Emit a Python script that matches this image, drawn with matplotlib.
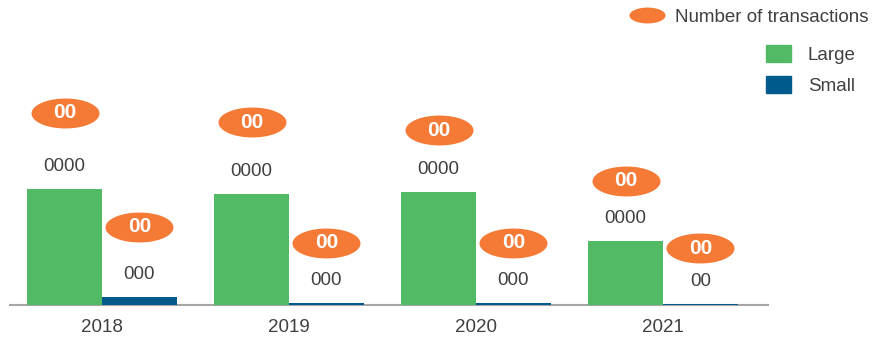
import numpy as np
import matplotlib.pyplot as plt
from matplotlib.path import Path
from matplotlib.lines import Line2D
from matplotlib.patches import Patch

plt.rcParams['font.family'] = ['Liberation Sans', 'DejaVu Sans']

# data (labels masked as in the original)
years = ['2018', '2019', '2020', '2021']
large = [116, 111, 113, 64]
small = [8, 2, 2, 1]
large_lbl = ['0000', '0000', '0000', '0000']
small_lbl = ['000', '000', '000', '00']
# number of transactions, drawn as orange ovals
trans_large = [192, 183, 175, 124]
trans_small = [78, 62, 62, 57]
trans_lbl = ['00', '00', '00', '00']

green = '#52BA64'
blue = '#005A8C'
orange = '#F47A36'
txt = '#404040'
fs = 13.5

fig = plt.figure(figsize=(8.72, 3.41), dpi=100)
ax = fig.add_axes([10 / 872, 36 / 341, 758 / 872, 305 / 341])

x = np.arange(len(years))
w = 0.40
ax.bar(x - w / 2, large, w, color=green, zorder=2)
ax.bar(x + w / 2, small, w, color=blue, zorder=2)

for i in range(len(years)):
    ax.annotate(large_lbl[i], (x[i] - w / 2, large[i]), xytext=(0, 16),
                textcoords='offset points', ha='center', va='center',
                fontsize=fs, color=txt)
    ax.annotate(small_lbl[i], (x[i] + w / 2, small[i]), xytext=(0, 16),
                textcoords='offset points', ha='center', va='center',
                fontsize=fs, color=txt)

# oval marker
t = np.linspace(0, 2 * np.pi, 60)
oval = Path(np.column_stack([np.cos(t), 0.44 * np.sin(t)]))

ax.scatter(x - w / 2, trans_large, s=2400, marker=oval, color=orange, lw=0, zorder=3)
ax.scatter(x + w / 2, trans_small, s=2400, marker=oval, color=orange, lw=0, zorder=3)
for i in range(len(years)):
    ax.text(x[i] - w / 2, trans_large[i], trans_lbl[i], ha='center', va='center',
            fontsize=15, fontweight='bold', color='white', zorder=4)
    ax.text(x[i] + w / 2, trans_small[i], trans_lbl[i], ha='center', va='center',
            fontsize=15, fontweight='bold', color='white', zorder=4)

ax.set_xlim(-0.492, 3.561)
ax.set_ylim(0, 305)
ax.set_xticks(x)
ax.set_xticklabels(years, fontsize=fs, color=txt)
ax.tick_params(axis='x', length=0, pad=10)
ax.set_yticks([])
for s in ['top', 'right', 'left']:
    ax.spines[s].set_visible(False)
ax.spines['bottom'].set_color('#A6A6A6')
ax.spines['bottom'].set_linewidth(1.5)
ax.spines['bottom'].set_zorder(1)

# legends
h1 = [Line2D([], [], marker=oval, ls='none', color=orange, markersize=26, markeredgewidth=0)]
leg1 = fig.legend(h1, ['Number of transactions'], loc='center right',
                  bbox_to_anchor=(872 / 872, 1 - 17 / 341), frameon=False,
                  fontsize=fs, labelcolor=txt, handletextpad=0.5, borderaxespad=0,
                  borderpad=0.2)
h2 = [Patch(color=green), Patch(color=blue)]
leg2 = fig.legend(h2, ['Large', 'Small'], loc='upper left',
                  bbox_to_anchor=(762 / 872, 1 - 41 / 341), frameon=False,
                  fontsize=fs, labelcolor=txt, handlelength=1.35, handleheight=1.05,
                  handletextpad=0.9, labelspacing=0.65, borderaxespad=0, borderpad=0.2)

fig.savefig('out.png', dpi=100)
